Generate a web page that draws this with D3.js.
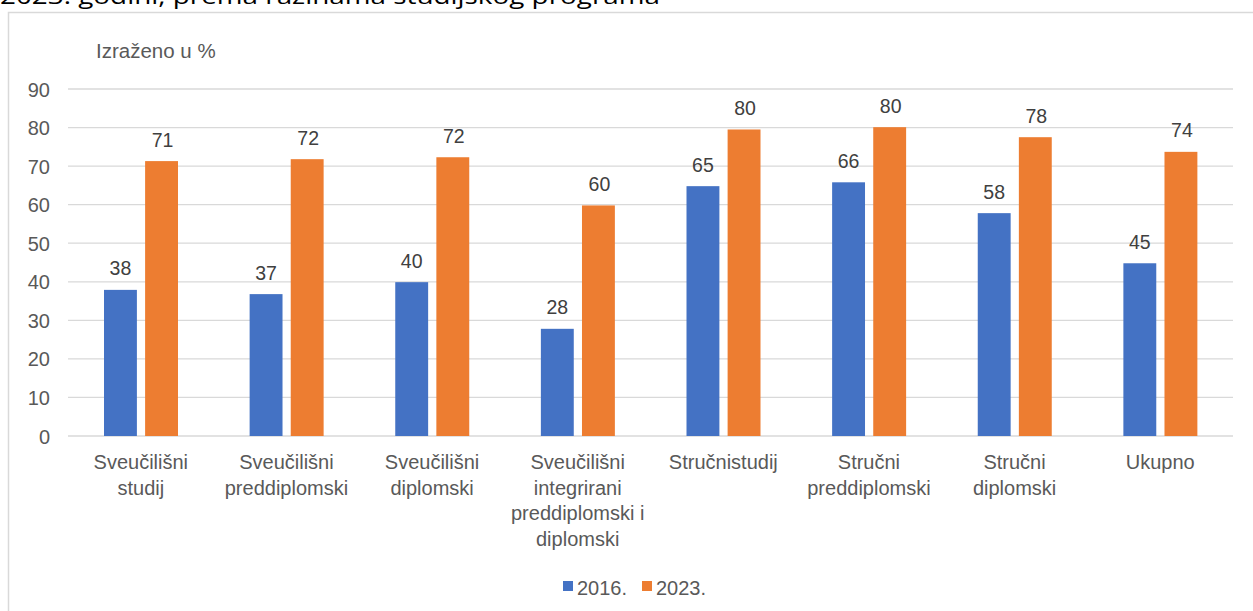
<!DOCTYPE html>
<html>
<head>
<meta charset="utf-8">
<script src="https://cdn.jsdelivr.net/npm/d3@7"></script>
<style>
  html, body { margin: 0; padding: 0; background: #fff; }
  svg { display: block; }
</style>
</head>
<body>
<svg id="chart" width="1253" height="611"></svg>
<script>
const categories = [
  "Sveučilišni\nstudij",
  "Sveučilišni\npreddiplomski",
  "Sveučilišni\ndiplomski",
  "Sveučilišni\nintegrirani\npreddiplomski i\ndiplomski",
  "Stručnistudij",
  "Stručni\npreddiplomski",
  "Stručni\ndiplomski",
  "Ukupno"
];
const seriesNames = ["2016.", "2023."];
const values2016 = [37.9, 36.8, 39.9, 27.8, 64.8, 65.8, 57.8, 44.8];
const values2023 = [71.3, 71.8, 72.3, 59.8, 79.5, 80.1, 77.5, 73.7];
const colors = ["#4472C4", "#ED7D31"];
const yTicks = [0, 10, 20, 30, 40, 50, 60, 70, 80, 90];
const unitLabel = "Izraženo u %";
const captionText = "2023. godini, prema razinama studijskog programa";

const FONT = "'Liberation Sans', Arial, sans-serif";
const TXT = "#595959";

const svg = d3.select("#chart");

// caption (clipped at top, as in the source page)
svg.append("text")
  .attr("x", 0).attr("y", 4)
  .attr("font-family", "'Open Sans', 'Noto Sans', sans-serif")
  .attr("font-size", 22)
  .attr("fill", "#000")
  .attr("textLength", 660)
  .attr("lengthAdjust", "spacingAndGlyphs")
  .text(captionText);

// chart frame
svg.append("path")
  .attr("d", "M8.5,640 L8.5,12.5 L1260,12.5")
  .attr("fill", "none")
  .attr("stroke", "#d9d9d9")
  .attr("stroke-width", 1.5);

const x0 = d3.scaleBand().domain(categories).range([68, 1233]).padding(0);
const xs = d3.scaleBand().domain(seriesNames).range([36, 110]).paddingInner(0.2).paddingOuter(0);
const y = d3.scaleLinear().domain([0, 90]).range([436, 89]);

// gridlines
svg.append("g")
  .selectAll("line").data(yTicks).join("line")
  .attr("x1", 68).attr("x2", 1233)
  .attr("y1", d => y(d)).attr("y2", d => y(d))
  .attr("stroke", "#d9d9d9").attr("stroke-width", 1.3);

// y axis labels
const yAxis = d3.axisLeft(y).tickValues(yTicks).tickSize(0).tickPadding(0);
const ya = svg.append("g").attr("transform", "translate(50,0)").call(yAxis);
ya.select(".domain").remove();
ya.selectAll("text")
  .attr("font-family", FONT).attr("font-size", 20).attr("fill", TXT)
  .attr("dy", "0.35em");

// unit label
svg.append("text")
  .attr("x", 96).attr("y", 58)
  .attr("font-family", FONT).attr("font-size", 20.5).attr("fill", TXT)
  .text(unitLabel);

// bars
const rows = categories.map((c, i) => ({ cat: c, vals: [values2016[i], values2023[i]] }));
const groups = svg.append("g").selectAll("g").data(rows).join("g")
  .attr("transform", d => `translate(${x0(d.cat)},0)`);

groups.selectAll("rect")
  .data(d => d.vals.map((v, j) => ({ key: seriesNames[j], v, j })))
  .join("rect")
  .attr("x", d => xs(d.key))
  .attr("width", xs.bandwidth())
  .attr("y", d => y(d.v))
  .attr("height", d => y(0) - y(d.v))
  .attr("fill", d => colors[d.j]);

groups.selectAll("text.lbl")
  .data(d => d.vals.map((v, j) => ({ key: seriesNames[j], v, j })))
  .join("text")
  .attr("class", "lbl")
  .attr("x", d => xs(d.key) + xs.bandwidth() / 2 + (d.j === 1 ? 1 : 0))
  .attr("y", d => y(d.v) - 14.5)
  .attr("text-anchor", "middle")
  .attr("font-family", FONT).attr("font-size", 19.5).attr("fill", "#404040")
  .text(d => Math.round(d.v));

// category labels
const xa = svg.append("g");
categories.forEach(c => {
  const t = xa.append("text")
    .attr("x", x0(c) + x0.bandwidth() / 2)
    .attr("y", 469)
    .attr("text-anchor", "middle")
    .attr("font-family", FONT).attr("font-size", 20).attr("fill", TXT);
  c.split("\n").forEach((line, k) => {
    t.append("tspan")
      .attr("x", x0(c) + x0.bandwidth() / 2)
      .attr("y", 469 + k * 25.7)
      .text(line);
  });
});

// legend
const legendX = [563, 642];
const leg = svg.append("g");
seriesNames.forEach((s, i) => {
  leg.append("rect")
    .attr("x", legendX[i]).attr("y", 581)
    .attr("width", 10).attr("height", 10)
    .attr("fill", colors[i]);
  leg.append("text")
    .attr("x", legendX[i] + 14).attr("y", 595)
    .attr("font-family", FONT).attr("font-size", 20).attr("fill", TXT)
    .text(s);
});
</script>
</body>
</html>
